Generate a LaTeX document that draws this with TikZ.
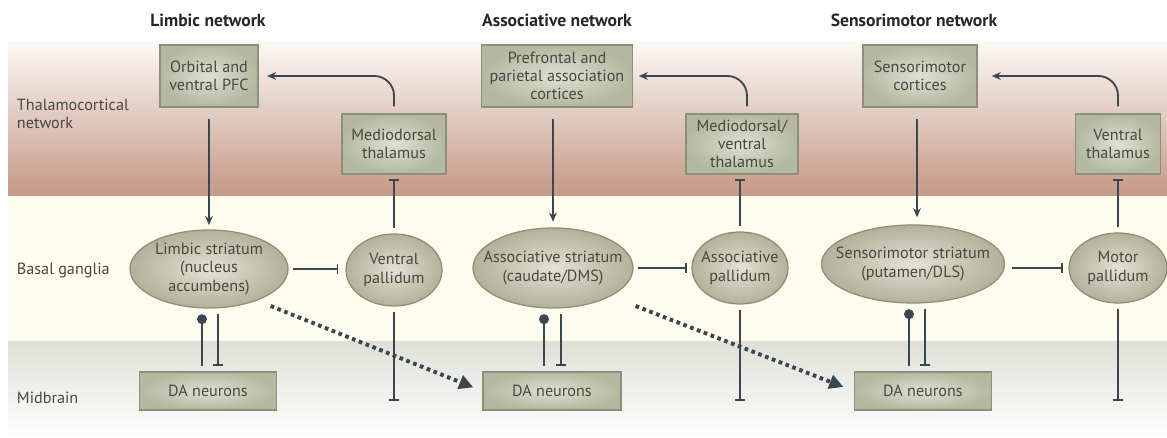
\documentclass[tikz,border=0pt]{standalone}
\usepackage{fontspec}
\setmainfont{PT Sans}
\usetikzlibrary{calc,arrows.meta,shapes.geometric}

\definecolor{bandtop}{RGB}{252,248,245}
\definecolor{bandmid}{RGB}{226,199,187}
\definecolor{bandbot}{RGB}{196,152,134}
\definecolor{bgband}{RGB}{253,252,237}
\definecolor{midtop}{RGB}{222,224,216}
\definecolor{boxin}{RGB}{222,225,208}
\definecolor{boxout}{RGB}{180,184,160}
\definecolor{boxline}{RGB}{140,144,122}
\definecolor{ellin}{RGB}{228,226,210}
\definecolor{ellout}{RGB}{178,177,154}
\definecolor{txt}{RGB}{72,72,64}
\definecolor{wire}{RGB}{58,70,80}

\tikzset{
  area/.style={text=txt, anchor=west, align=left, font=\fontsize{11.5}{12.8}\selectfont},
  title/.style={text=black!85, font=\bfseries\fontsize{12.5}{14}\selectfont},
  region/.style={draw=boxline, line width=0.9pt, inner color=boxin, outer color=boxout,
    text=txt, align=center, inner sep=0pt, font=\fontsize{11.5}{13}\selectfont},
  nuctext/.style={text=txt, align=center, inner sep=0pt, font=\fontsize{11.5}{13}\selectfont},
  nucleus/.style 2 args={ellipse, draw=boxline, line width=0.9pt, inner color=ellin, outer color=ellout,
    inner sep=0pt, minimum width=#1*0.025cm, minimum height=#2*0.025cm},
  excite/.style={draw=wire, line width=1.3pt, -{Stealth[length=6.5pt,width=5.5pt]}},
  inhib/.style={draw=wire, line width=1.3pt, -{Bar[width=7.5pt,line width=1.3pt]}},
  modul/.style={draw=wire, line width=1.3pt, -{Circle[length=7pt]}},
  dotarrow/.style={draw=wire, line width=2.8pt, dash pattern=on 2.6pt off 2.6pt,
    -{Triangle[length=10pt,width=10pt]}}
}

\begin{document}
\begin{tikzpicture}[x=0.025cm, y=-0.025cm]
\useasboundingbox (0,0) rectangle (1167,438);

% bands
\shade[top color=bandtop, middle color=bandmid, bottom color=bandbot] (8,42) rectangle (1167,196);
\fill[bgband] (8,196) rectangle (1167,342);
\shade[top color=midtop, bottom color=white] (8,342) rectangle (1167,438);

\node[title] (tlim) at (208,20) {Limbic network};
\node[title] (tass) at (557,20) {Associative network};
\node[title] (tsen) at (914,20) {Sensorimotor network};

\node[area] (lthal) at (12,114) {Thalamocortical\\network};
\node[area] (lbg) at (12,270) {Basal ganglia};
\node[area] (lmid) at (12,398) {Midbrain};

% limbic
\node[region, minimum width=98*0.025cm, minimum height=62*0.025cm] (pfc) at (209,76) {Orbital and\\ventral PFC};
\node[region, minimum width=104*0.025cm, minimum height=60*0.025cm] (mdt) at (394,144) {Mediodorsal\\thalamus};
\node[nucleus={158}{78}, label={[nuctext]center:Limbic striatum\\(nucleus\\accumbens)}] (ls) at (209,269) {};
\node[nucleus={96}{72}, label={[nuctext]center:Ventral\\pallidum}] (vp) at (394,270) {};
\node[region, minimum width=137*0.025cm, minimum height=38*0.025cm] (da1) at (208,391) {DA neurons};

% associative
\node[region, minimum width=151*0.025cm, minimum height=62*0.025cm] (ppc) at (557,76) {Prefrontal and\\parietal association\\cortices};
\node[region, minimum width=112*0.025cm, minimum height=60*0.025cm] (mdvt) at (742,144) {Mediodorsal/\\ventral\\thalamus};
\node[nucleus={160}{80}, label={[nuctext]center:Associative striatum\\(caudate/DMS)}] (as) at (553,268) {};
\node[nucleus={96}{72}, label={[nuctext]center:Associative\\pallidum}] (ap) at (740,268) {};
\node[region, minimum width=138*0.025cm, minimum height=38*0.025cm] (da2) at (552,391) {DA neurons};

% sensorimotor
\node[region, minimum width=114*0.025cm, minimum height=62*0.025cm] (smc) at (920,76) {Sensorimotor\\cortices};
\node[region, minimum width=85*0.025cm, minimum height=60*0.025cm] (vt) at (1118,144) {Ventral\\thalamus};
\node[nucleus={183}{78}, label={[nuctext]center:Sensorimotor striatum\\(putamen/DLS)}] (ss) at (913,264) {};
\node[nucleus={98}{70}, label={[nuctext]center:Motor\\pallidum}] (mp) at (1118,268) {};
\node[region, minimum width=137*0.025cm, minimum height=38*0.025cm] (da3) at (923,391) {DA neurons};

\coordinate (vpend) at (394,401);
\coordinate (apend) at (740,401);
\coordinate (mpend) at (1118,401);

% cortex to striatum
\draw[excite, shorten <=8pt, shorten >=3pt] (pfc.south) -- (ls.north);
\draw[excite, shorten <=8pt, shorten >=4pt] (as.north |- ppc.south) -- (as.north);
\draw[excite, shorten <=8pt, shorten >=5pt] ($(smc.south)+(-3,0)$) -- ($(ss.north)+(4,0)$);

% thalamus to cortex
\draw[excite, rounded corners=14pt, shorten <=5pt, shorten >=6pt] (mdt.north) |- (pfc.east);
\draw[excite, rounded corners=14pt, shorten <=5pt, shorten >=4pt] ($(mdvt.north)+(5,0)$) |- (ppc.east);
\draw[excite, rounded corners=14pt, shorten <=5pt, shorten >=10pt] (vt.north) |- (smc.east);

% pallidum to thalamus
\draw[inhib, shorten <=4pt, shorten >=3pt] (vp.north) -- (mdt.south);
\draw[inhib, shorten <=4pt, shorten >=3pt] (ap.north) -- (ap.north |- mdvt.south);
\draw[inhib, shorten <=4pt, shorten >=3pt] (mp.north) -- (vt.south);

% striatum to pallidum
\draw[inhib, shorten <=3pt, shorten >=5pt] (ls.east) -- (ls.east -| vp.west);
\draw[inhib, shorten <=3pt, shorten >=3pt] (as.east) -- (ap.west);
\draw[inhib, shorten <=5pt, shorten >=4pt] (ss.east |- mp.west) -- (mp.west);

% pallidum output
\draw[inhib, shorten <=4pt] (vp.south) -- (vpend);
\draw[inhib, shorten <=4pt] (ap.south) -- (apend);
\draw[inhib, shorten <=4pt] (mp.south) -- (mpend);

% dopamine loops
\draw[modul, shorten <=4pt, shorten >=4pt] ($(da1.north)+(-6,0)$) -- ($(ls.south)+(-7,0)$);
\draw[inhib, shorten <=4pt, shorten >=4pt] ($(ls.south)+(9,0)$) -- ($(da1.north)+(10,0)$);
\draw[modul, shorten <=4pt, shorten >=4pt] ($(da2.north)+(-8,0)$) -- ($(as.south)+(-9,0)$);
\draw[inhib, shorten <=4pt, shorten >=4pt] ($(as.south)+(8,0)$) -- ($(da2.north)+(9,0)$);
\draw[modul, shorten <=4pt, shorten >=4pt] ($(da3.north)+(-14,0)$) -- ($(ss.south)+(-4,0)$);
\draw[inhib, shorten <=4pt, shorten >=4pt] ($(ss.south)+(12,0)$) -- ($(da3.north)+(2,0)$);

% spiral
\draw[dotarrow, shorten >=7pt] ($(ls.east)+(-18,37)$) -- (da2.west);
\draw[dotarrow, shorten >=8pt] ($(as.east)+(2,38)$) -- (da3.west);
\end{tikzpicture}
\end{document}
